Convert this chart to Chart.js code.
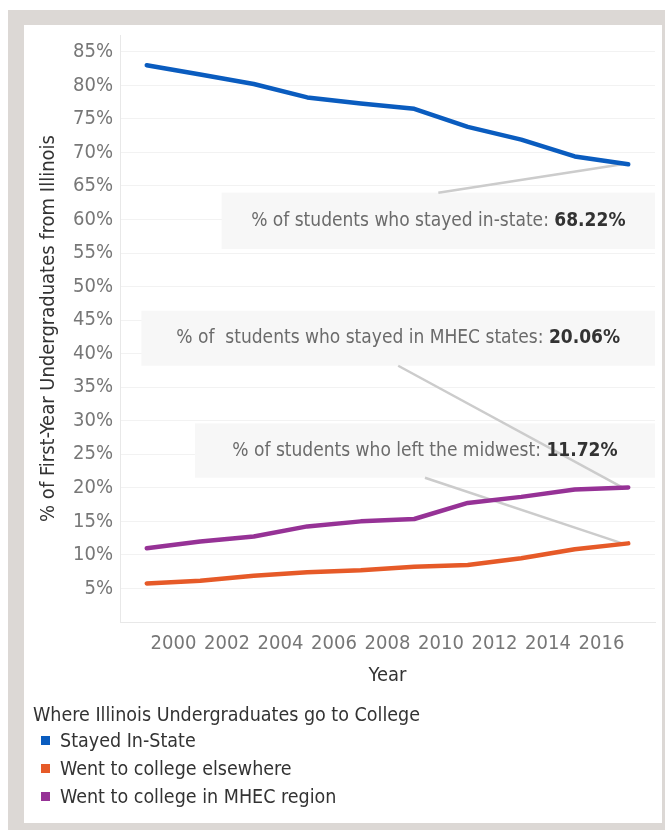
<!DOCTYPE html>
<html>
<head>
<meta charset="utf-8">
<script src="https://cdn.jsdelivr.net/npm/chart.js@4.4.1/dist/chart.umd.min.js"></script>
<style>
  body { margin: 0; background: #fff; overflow: hidden; font-family: "DejaVu Sans Condensed", "Liberation Sans Narrow", sans-serif; }
  #frame { position: absolute; left: 8px; top: 10px; width: 680px; height: 840px; background: #dcd8d5; }
  #panel { position: absolute; left: 24px; top: 25px; width: 638px; height: 798px; background: #fff; }
  #wrap { position: absolute; left: 24px; top: 16px; width: 638px; height: 694px; }
  #legend { position: absolute; left: 33px; top: 703px; color: #333; font-size: 19.5px; }
  #legend .item { display: flex; align-items: center; height: 28px; margin-left: 8px; }
  #legend .box { width: 9px; height: 9px; margin-right: 10px; }
</style>
</head>
<body>
<div id="frame"></div>
<div id="panel"></div>
<div id="wrap"><canvas id="myChart"></canvas></div>
<div id="legend"></div>
<script>
// data (odd years only)
const years = [1999, 2001, 2003, 2005, 2007, 2009, 2011, 2013, 2015, 2017];
const stayed_in_state = [83.0, 81.6, 80.2, 78.2, 77.3, 76.5, 73.8, 71.9, 69.4, 68.22];
const went_elsewhere = [5.75, 6.15, 6.9, 7.4, 7.7, 8.25, 8.5, 9.5, 10.85, 11.72];
const went_mhec = [11.0, 12.0, 12.75, 14.25, 15.0, 15.35, 17.75, 18.65, 19.75, 20.06];
const series_names = ['Stayed In-State', 'Went to college elsewhere', 'Went to college in MHEC region'];
const series_colors = ['#0a5cbf', '#e65a28', '#963296'];
const legend_title = 'Where Illinois Undergraduates go to College';

// callouts: label text, value shown in bold, which series they point at
const note_texts = ['% of students who stayed in-state: ', '% of  students who stayed in MHEC states: ', '% of students who left the midwest: '];
const note_values = ['68.22%', '20.06%', '11.72%'];
const note_series = [0, 2, 1];

// where the callout boxes sit, in axis units
const note_boxes = [
    {x1: 2001.8, x2: 2018, top: 64.0, bottom: 55.6},
    {x1: 1998.8, x2: 2018, top: 46.4, bottom: 38.2},
    {x1: 2000.8, x2: 2018, top: 29.6, bottom: 21.5},
];

const FONT = '"DejaVu Sans Condensed", "Liberation Sans Narrow", sans-serif';
Chart.defaults.font.family = FONT;

function toPoints(vals){
    return years.map((y, i) => ({x: y, y: vals[i]}));
}

const callouts = {
    id: 'callouts',
    beforeDatasetsDraw(chart){
        const ctx = chart.ctx;
        const xs = chart.scales.x, ys = chart.scales.y;
        ctx.save();
        // boxes
        note_boxes.forEach(b => {
            const l = xs.getPixelForValue(b.x1), r = xs.getPixelForValue(b.x2);
            const t = ys.getPixelForValue(b.top), bt = ys.getPixelForValue(b.bottom);
            ctx.fillStyle = '#f7f7f7';
            ctx.fillRect(l, t, r - l, bt - t);
        });
        // connector lines to the last point
        note_boxes.forEach((b, i) => {
            const ds = chart.data.datasets[note_series[i]].data;
            const last = ds[ds.length - 1];
            const px = xs.getPixelForValue(last.x) - 6, py = ys.getPixelForValue(last.y);
            const l = xs.getPixelForValue(b.x1), r = xs.getPixelForValue(b.x2);
            const t = ys.getPixelForValue(b.top), bt = ys.getPixelForValue(b.bottom);
            const sx = (l + r) / 2;
            const sy = py < t ? t : bt;
            ctx.strokeStyle = '#cccccc';
            ctx.lineWidth = 2.5;
            ctx.beginPath();
            ctx.moveTo(sx, sy);
            ctx.lineTo(px, py);
            ctx.stroke();
        });
        // texts
        note_boxes.forEach((b, i) => {
            const l = xs.getPixelForValue(b.x1), r = xs.getPixelForValue(b.x2);
            const t = ys.getPixelForValue(b.top), bt = ys.getPixelForValue(b.bottom);
            const normal = '19px ' + FONT, bold = 'bold 19px ' + FONT;
            ctx.font = normal;
            const w1 = ctx.measureText(note_texts[i]).width;
            ctx.font = bold;
            const w2 = ctx.measureText(note_values[i]).width;
            let x = (l + r) / 2 - (w1 + w2) / 2;
            const y = (t + bt) / 2;
            ctx.textBaseline = 'middle';
            ctx.textAlign = 'left';
            ctx.font = normal;
            ctx.fillStyle = '#6b6b6b';
            ctx.fillText(note_texts[i], x, y);
            ctx.font = bold;
            ctx.fillStyle = '#333333';
            ctx.fillText(note_values[i], x + w1, y);
        });
        ctx.restore();
    }
};

const ctx = document.getElementById('myChart').getContext('2d');
const myChart = new Chart(ctx, {
    type: 'line',
    data: {
        datasets: [stayed_in_state, went_elsewhere, went_mhec].map((vals, i) => ({
            label: series_names[i],
            data: toPoints(vals),
            borderColor: series_colors[i],
            backgroundColor: series_colors[i],
            borderWidth: 4.5,
            borderCapStyle: 'round',
            borderJoinStyle: 'round',
            pointRadius: 0,
            tension: 0,
        })),
    },
    options: {
        responsive: true,
        maintainAspectRatio: false,
        animation: false,
        layout: {padding: {top: 8, right: 7, left: 0, bottom: 0}},
        plugins: {
            legend: {display: false},
            tooltip: {enabled: false},
        },
        scales: {
            x: {
                type: 'linear',
                min: 1998,
                max: 2018,
                afterFit: s => { s.height = 88; },
                ticks: {
                    stepSize: 2,
                    padding: 2,
                    color: '#777',
                    font: {size: 20},
                    callback: v => (v === 1998 || v === 2018) ? '' : String(v),
                },
                grid: {display: false},
                border: {color: '#e8e8e8'},
                title: {display: true, text: 'Year', color: '#333', font: {size: 20}, padding: {bottom: 22}},
            },
            y: {
                min: 0,
                max: 87.5,
                afterFit: s => { s.width = 96; },
                ticks: {
                    stepSize: 5,
                    includeBounds: false,
                    padding: 7,
                    color: '#777',
                    font: {size: 20},
                    callback: v => v === 0 ? '' : v + '%',
                },
                grid: {color: '#f2f2f2', drawTicks: false},
                border: {color: '#e8e8e8'},
                title: {display: true, text: '% of First-Year Undergraduates from Illinois', color: '#333', font: {size: 20}, padding: {top: 13}},
            },
        },
    },
    plugins: [callouts],
});

// legend below the chart
const legend = document.getElementById('legend');
let html = '<div style="height:23px;line-height:23px">' + legend_title + '</div>';
myChart.data.datasets.forEach(ds => {
    html += '<div class="item"><span class="box" style="background:' + ds.borderColor + '"></span>' + ds.label + '</div>';
});
legend.innerHTML = html;
</script>
</body>
</html>
